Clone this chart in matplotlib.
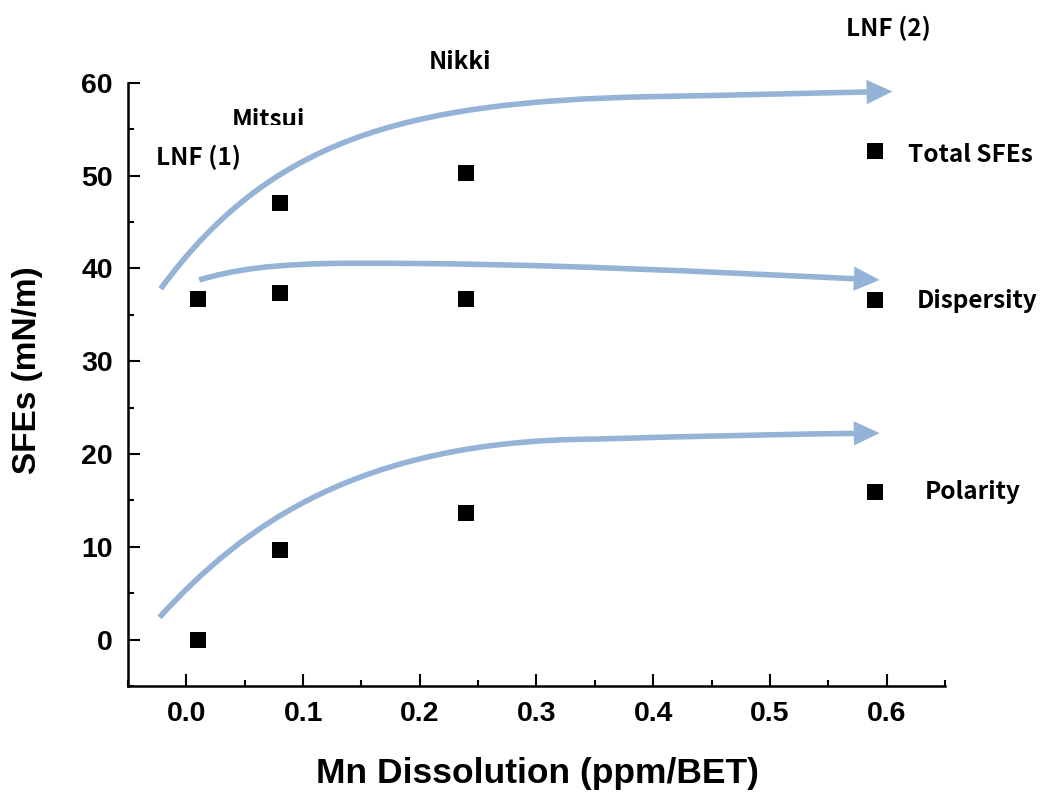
import matplotlib.pyplot as plt
from matplotlib.ticker import MultipleLocator
from matplotlib.path import Path
from matplotlib.patches import FancyArrowPatch, Rectangle

# data
mn = [0.01, 0.08, 0.24, 0.59]
total_x = [0.08, 0.24, 0.59]
total = [47.0, 50.3, 52.6]
dispersity = [36.7, 37.3, 36.7, 36.6]
polarity = [0.0, 9.7, 13.6, 15.9]

# hand-drawn trend arrows: cubic bezier control points (start, c1, c2, end, c1, c2, end)
trend_total = [(-0.022, 37.8), (0.07, 53.5), (0.18, 58.0), (0.40, 58.5),
               (0.47, 58.65), (0.54, 58.9), (0.605, 59.05)]
trend_disp = [(0.011, 38.75), (0.04, 39.8), (0.07, 40.5), (0.14, 40.55),
              (0.30, 40.6), (0.45, 39.6), (0.594, 38.75)]
trend_pol = [(-0.023, 2.4), (0.05, 12.5), (0.15, 21.5), (0.35, 21.6),
             (0.43, 21.9), (0.52, 22.15), (0.594, 22.25)]

labels_top = ['LNF (1)', 'Mitsui', 'Nikki', 'LNF (2)']
labels_side = ['Total SFEs', 'Dispersity', 'Polarity']

blue = '#95B3D7'
lab_font = ['Noto Sans CJK KR', 'DejaVu Sans']
tick_font = 'Liberation Sans'

fig = plt.figure(figsize=(10.42, 7.95), dpi=100)
ax = fig.add_axes([128 / 1042, 1 - 686 / 795, (945 - 128) / 1042, (686 - 82.7) / 795])

# trend arrows
codes = [Path.MOVETO] + [Path.CURVE4] * 6
for pts in [trend_total, trend_disp, trend_pol]:
    arrow = FancyArrowPatch(path=Path(pts, codes),
                            arrowstyle='-|>,head_length=0.85,head_width=0.4',
                            mutation_scale=14, color=blue, lw=4.0,
                            joinstyle='miter', capstyle='butt',
                            transform=ax.transData, zorder=1, clip_on=False)
    ax.add_patch(arrow)

# data points
ax.scatter(total_x, total, marker='s', s=120, color='black', zorder=3, linewidths=0)
ax.scatter(mn, dispersity, marker='s', s=120, color='black', zorder=3, linewidths=0)
ax.scatter(mn, polarity, marker='s', s=120, color='black', zorder=3, linewidths=0)

ax.set_xlim(-0.05, 0.65)
ax.set_ylim(-5, 60)
ax.xaxis.set_major_locator(MultipleLocator(0.1))
ax.xaxis.set_minor_locator(MultipleLocator(0.05))
ax.yaxis.set_major_locator(MultipleLocator(10))
ax.yaxis.set_minor_locator(MultipleLocator(5))
ax.set_xticks([0, 0.1, 0.2, 0.3, 0.4, 0.5, 0.6])
ax.set_xticklabels(['0.0', '0.1', '0.2', '0.3', '0.4', '0.5', '0.6'])

for s in ['top', 'right']:
    ax.spines[s].set_visible(False)
for s in ['left', 'bottom']:
    ax.spines[s].set_linewidth(1.8)

ax.tick_params(which='major', direction='in', length=8.5, width=1.5, pad=11)
ax.tick_params(which='minor', direction='in', length=4, width=1.5)
for lbl in ax.get_xticklabels() + ax.get_yticklabels():
    lbl.set_fontfamily(tick_font)
    lbl.set_fontweight('bold')
    lbl.set_fontsize(20.5)

fig.text(28 / 1042, 1 - 370 / 795, 'SFEs (mN/m)', rotation=90, ha='center', va='center',
         fontsize=24, fontweight='bold', family=tick_font)
fig.text(537 / 1042, 1 - 773 / 795, 'Mn Dissolution (ppm/BET)', ha='center', va='center',
         fontsize=25.5, fontweight='bold', family=tick_font)

# sample names
top_pos = [(199, 157), (268, 120), (460, 62), (888, 28)]
for t, (px, py) in zip(labels_top, top_pos):
    txt = fig.text(px / 1042, 1 - py / 795, t, ha='center', va='center',
                   fontsize=17.5, fontweight='bold', family=lab_font)
    if t == 'Mitsui':
        # the original has the bottom of this label cut off
        clip = Rectangle((0, 1 - 125 / 795), 1, 0.2, transform=fig.transFigure)
        txt.set_clip_path(clip)

side_pos = [(970, 155), (977, 301), (973, 492)]
for t, (px, py) in zip(labels_side, side_pos):
    fig.text(px / 1042, 1 - py / 795, t, ha='center', va='center',
             fontsize=17.5, fontweight='bold', family=lab_font)

fig.savefig('out.png', dpi=100)
